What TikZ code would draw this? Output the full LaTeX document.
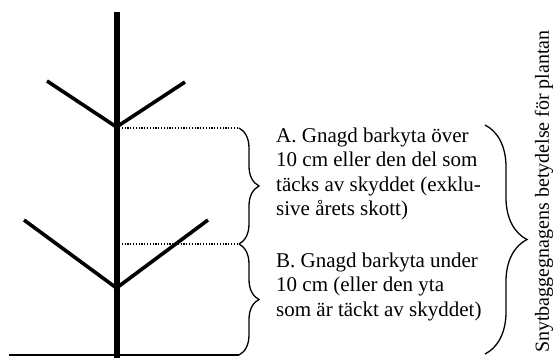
\documentclass[tikz,border=0pt]{standalone}
\usepackage{fontspec}
\setmainfont{Liberation Serif}
\usetikzlibrary{decorations.pathreplacing}
\definecolor{ink}{HTML}{000000}

\begin{document}
\begin{tikzpicture}[x=1pt,y=-1pt,ink,
    trunk/.style={line width=6pt},
    branch/.style={line width=3.6pt},
    guide/.style={line width=1.2pt,dash pattern=on 1.2pt off 1.6pt},
    curly/.style={decorate,decoration={brace,amplitude=#1},line width=1.3pt},
    zone/.style={anchor=north west,inner sep=0pt,align=left,
      font=\fontsize{21}{24.4}\selectfont}]
    \useasboundingbox (0,0) rectangle (555,358);
    % stem, forks and branch tips
    \coordinate (top) at (116.5,12.5);
    \coordinate (foot) at (116.5,358);
    \coordinate (fork1) at (116.5,127);
    \coordinate (fork2) at (116.5,288);
    \coordinate (tip1l) at (47,81);
    \coordinate (tip1r) at (185,82);
    \coordinate (tip2l) at (24,220);
    \coordinate (tip2r) at (208,220);
    \coordinate (gl) at (9,355);
    \coordinate (mA) at (239,128);
    \coordinate (mB) at (239,244);
    \coordinate (mC) at (239,355);
    \draw[line width=1.5pt] (gl) -- (mC);
    \draw[trunk] (top) -- (foot);
    \draw[branch,line join=round] (tip1l) -- (fork1) -- (tip1r);
    \draw[branch,line join=round] (tip2l) -- (fork2) -- (tip2r);
    \draw[guide] (119,128) -- (mA);
    \draw[guide] (119,244) -- (mB);
    \draw[curly=20pt] (mA) -- (mB);
    \draw[curly=20pt] (mB) -- (mC);
    \node[zone] (zoneA) at (276,127.5) {A. Gnagd barkyta över\\10 cm eller den del som\\täcks av skyddet (exklu-\\sive årets skott)};
    \node[zone] (zoneB) at (276,252.5) {B. Gnagd barkyta under\\10 cm (eller den yta\\som är täckt av skyddet)};
    \coordinate (bt) at (485,125);
    \coordinate (bb) at (485,354);
    \draw[curly=42pt] (bt) -- (bb);
    \node[rotate=90,font=\fontsize{20}{24}\selectfont] (effect) at (544,191.5) {Snytbaggegnagens betydelse för plantan};
\end{tikzpicture}
\end{document}
